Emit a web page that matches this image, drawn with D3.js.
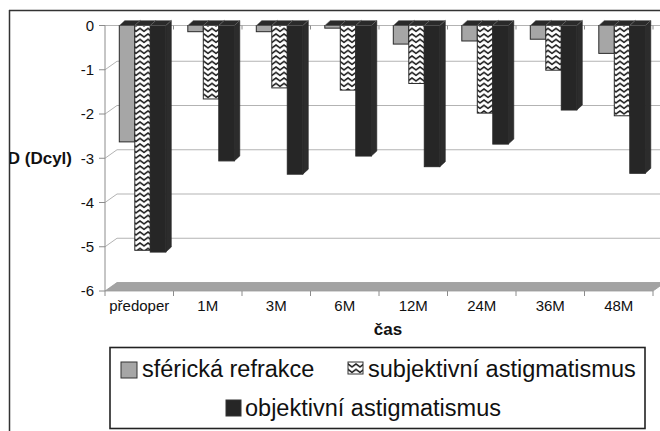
<!DOCTYPE html>
<html><head><meta charset="utf-8">
<script src="https://cdn.jsdelivr.net/npm/d3@7"></script>
<style>
html,body{margin:0;padding:0;background:#fff;}
svg{display:block;}
text{font-family:"Liberation Sans",Arial,sans-serif;fill:#111;}
</style></head>
<body>
<script>
const categories = ["předoper","1M","3M","6M","12M","24M","36M","48M"];
const seriesNames = ["sférická refrakce","subjektivní astigmatismus","objektivní astigmatismus"];
const sfericka   = [-2.63,-0.14,-0.14,-0.06,-0.42,-0.35,-0.31,-0.63];
const subjektivni= [-5.08,-1.66,-1.41,-1.46,-1.31,-1.98,-1.01,-2.04];
const objektivni = [-5.12,-3.06,-3.36,-2.95,-3.19,-2.68,-1.91,-3.34];
const yTicks = [0,-1,-2,-3,-4,-5,-6];
const yTitle = "D (Dcyl)";
const xTitle = "čas";

const W=660,H=431;
const svg=d3.select("body").append("svg").attr("width",W).attr("height",H);
const defs=svg.append("defs");
const pat=defs.append("pattern").attr("id","zig").attr("patternUnits","userSpaceOnUse")
  .attr("width",8).attr("height",5.5);
pat.append("rect").attr("width",8).attr("height",5.5).attr("fill","#fff");
pat.append("path").attr("d","M-0.5,4.3 L4,1.0 L8.5,4.3").attr("fill","none").attr("stroke","#111").attr("stroke-width",1.5);
defs.append("clipPath").attr("id","lclip").append("rect").attr("x",10).attr("y",0).attr("width",200).attr("height",H);

const x=d3.scaleBand().domain(categories).range([105,653]).padding(0);
const y=d3.scaleLinear().domain([-6,0]).range([291,25.5]);
const xs=d3.scaleBand().domain(seriesNames).range([14.3,14.3+46.5]).padding(0);
const wdx=12,wdy=-8.5, bdx=5.5,bdy=-5;
const grid="#b3b3b3", axisC="#8c8c8c";

// borders
svg.append("line").attr("x1",9).attr("x2",W).attr("y1",10.5).attr("y2",10.5).attr("stroke","#333").attr("stroke-width",1.5);
svg.append("line").attr("x1",9.5).attr("x2",9.5).attr("y1",10).attr("y2",H).attr("stroke","#333").attr("stroke-width",1.5);

// back wall gridlines
yTicks.filter(t=>t<0&&t>-6).forEach(t=>{
  const yy=y(t);
  svg.append("line").attr("x1",105+wdx).attr("x2",W).attr("y1",yy+wdy).attr("y2",yy+wdy).attr("stroke",grid).attr("stroke-width",1.2);
  svg.append("line").attr("x1",105).attr("x2",105+wdx).attr("y1",yy).attr("y2",yy+wdy).attr("stroke",grid).attr("stroke-width",1);
});
// zero line with ticks
svg.append("line").attr("x1",99).attr("x2",W).attr("y1",y(0)).attr("y2",y(0)).attr("stroke",grid).attr("stroke-width",1.2);
categories.forEach(c=>{
  const xx=x(c)+x.bandwidth();
  svg.append("line").attr("x1",xx).attr("x2",xx).attr("y1",y(0)).attr("y2",y(0)+4).attr("stroke",axisC);
});
// floor
const fy=y(-6);
const floorPts=[[105,fy],[653,fy],[653+wdx,fy+wdy],[105+wdx,fy+wdy]];
svg.append("polygon").attr("points",floorPts.map(p=>p.join(",")).join(" "))
  .attr("fill","#a3a3a3").attr("stroke","#999").attr("stroke-width",0.8);
// y axis
svg.append("line").attr("x1",105).attr("x2",105).attr("y1",y(0)).attr("y2",fy).attr("stroke",axisC).attr("stroke-width",1);
yTicks.forEach(t=>{
  svg.append("line").attr("x1",99).attr("x2",105).attr("y1",y(t)).attr("y2",y(t)).attr("stroke",axisC);
  svg.append("text").attr("x",94).attr("y",y(t)).attr("dy","0.36em").attr("text-anchor","end").attr("font-size",15).text(String(t));
});
// bottom x axis ticks
[x.range()[0],...categories.map(c=>x(c)+x.bandwidth())].forEach(xx=>{
  svg.append("line").attr("x1",xx).attr("x2",xx).attr("y1",fy).attr("y2",fy+5).attr("stroke",axisC);
});
categories.forEach(c=>{
  svg.append("text").attr("x",x(c)+x.bandwidth()/2).attr("y",311).attr("text-anchor","middle").attr("font-size",15).text(c);
});
svg.append("text").attr("x",388).attr("y",335).attr("text-anchor","middle").attr("font-size",17).attr("font-weight","bold").text(xTitle);
svg.append("text").attr("x",72).attr("y",y(-3)).attr("dy","0.36em").attr("text-anchor","end").attr("font-size",17).attr("font-weight","bold").attr("clip-path","url(#lclip)").text(yTitle);

// bars
const data=[sfericka,subjektivni,objektivni];
const fills=["#a6a6a6","url(#zig)","#262626"];
categories.forEach((c,i)=>{
  const g=svg.append("g");
  seriesNames.forEach((s,k)=>{
    const x0=x(c)+xs(s), x1=x0+xs.bandwidth();
    const yt=y(0), yb=y(data[k][i]);
    g.append("path").attr("d",`M${x1},${yt} L${x1+bdx},${yt+bdy} L${x1+bdx},${yb+bdy} L${x1},${yb} Z`)
      .attr("fill","#2c2c2c").attr("stroke","#222").attr("stroke-width",0.6);
  });
  seriesNames.forEach((s,k)=>{
    const x0=x(c)+xs(s), x1=x0+xs.bandwidth();
    const yt=y(0), yb=y(data[k][i]);
    g.append("rect").attr("x",x0).attr("y",yt).attr("width",x1-x0).attr("height",yb-yt)
      .attr("fill",fills[k]).attr("stroke","#2a2a2a").attr("stroke-width",1);
    g.append("path").attr("d",`M${x0},${yt} L${x0+bdx},${yt+bdy} L${x1+bdx},${yt+bdy} L${x1},${yt} Z`)
      .attr("fill","#2a2a2a").attr("stroke","#777").attr("stroke-width",0.5);
  });
});

// legend
svg.append("rect").attr("x",110).attr("y",347.5).attr("width",535).attr("height",81).attr("fill","#fff").attr("stroke","#222").attr("stroke-width",1.6);
const leg=[{sx:121,sy:362,w:16,h:16,tx:142,ty:377},{sx:348,sy:362,w:15,h:12,tx:368,ty:377},{sx:226,sy:400,w:15,h:16,tx:245,ty:416}];
seriesNames.forEach((s,k)=>{
  const L=leg[k];
  svg.append("rect").attr("x",L.sx).attr("y",L.sy).attr("width",L.w).attr("height",L.h).attr("fill",fills[k]).attr("stroke","#333").attr("stroke-width",1);
  svg.append("text").attr("x",L.tx).attr("y",L.ty).attr("font-size",23.5).text(s);
});
</script>
</body></html>
